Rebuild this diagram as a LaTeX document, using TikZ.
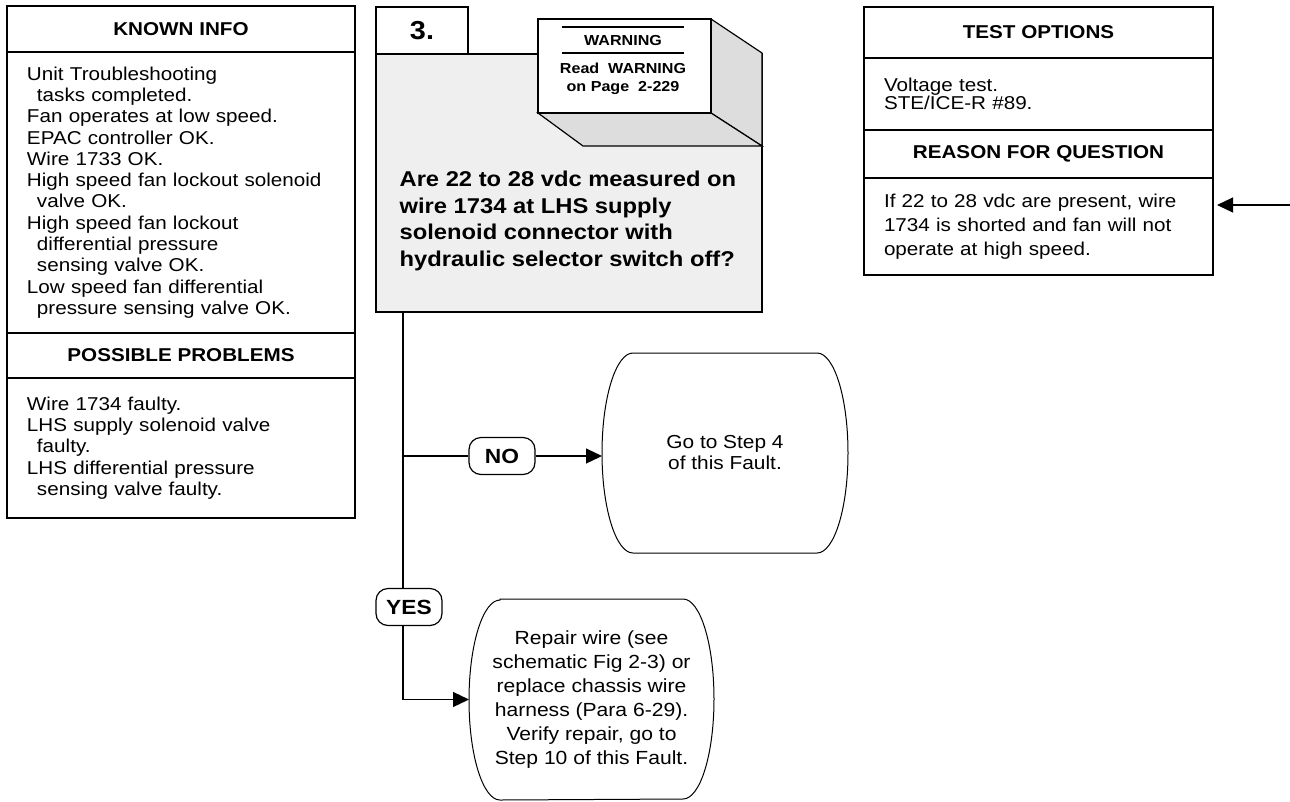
\documentclass[tikz,border=0pt]{standalone}
\usepackage{fontspec}
\setmainfont[FakeStretch=1.11]{Liberation Sans}
\usepackage{tikz}
\usetikzlibrary{arrows.meta,positioning}
\definecolor{askgray}{HTML}{EFEFEF}
\definecolor{slabgray}{HTML}{DDDDDD}

% rounded-ended terminal drawn round a named node
\newcommand{\termline}[1]{%
  \draw[line width=1pt] ([xshift=31pt]#1.north west) -- ([xshift=-31pt]#1.north east)
    arc[start angle=90,end angle=-90,x radius=31pt,y radius=100pt]
    -- ([xshift=31pt]#1.south west)
    arc[start angle=270,end angle=90,x radius=31pt,y radius=100pt] -- cycle;}

\begin{document}
\begin{tikzpicture}[x=1pt,y=-1pt,
line width=1.2pt,
head/.style={draw,outer sep=0pt,inner sep=0pt,minimum width=#1,
font=\fontsize{18.6}{21}\selectfont\bfseries},
textbox/.style={draw,outer sep=0pt,inner ysep=0pt,inner xsep=20pt,
text width=308pt,align=left,font=\fontsize{18.6}{21.3}\selectfont},
numbox/.style={draw,fill=white,outer sep=0pt,minimum width=92pt,minimum height=47pt,
font=\fontsize{26}{30}\selectfont\bfseries},
askbox/.style={draw,fill=askgray,outer sep=0pt},
warnbox/.style={draw,fill=white,outer sep=0pt},
warntext/.style={align=center,inner sep=0pt,font=\fontsize{14.5}{18}\selectfont\bfseries},
termtext/.style={align=center,outer sep=0pt,font=\fontsize{18.8}{21}\selectfont},
pill/.style={draw,fill=white,rounded corners=12pt,inner sep=0pt,
minimum width=66pt,minimum height=37pt,font=\fontsize{20.5}{24}\selectfont\bfseries},
arr/.style={-{Triangle[length=16pt,width=15pt]}}
]
\useasboundingbox (0,0) rectangle (1290,801);

\node[head=348pt,minimum height=46pt,anchor=north west] (kihead) at (7,6) {KNOWN INFO};
\node[textbox,minimum height=281pt,below=0pt of kihead] (kibody) {Unit Troubleshooting\\
\hspace*{10pt}tasks completed.\\
Fan operates at low speed.\\
EPAC controller OK.\\
Wire 1733 OK.\\
High speed fan lockout solenoid\\
\hspace*{10pt}valve OK.\\
High speed fan lockout\\
\hspace*{10pt}differential pressure\\
\hspace*{10pt}sensing valve OK.\\
Low speed fan differential\\
\hspace*{10pt}pressure sensing valve OK.};
\node[head=348pt,minimum height=45pt,below=0pt of kibody] (pphead) {POSSIBLE PROBLEMS};
\node[textbox,minimum height=140pt,below=0pt of pphead] (ppbody) {Wire 1734 faulty.\\
LHS supply solenoid valve\\
\hspace*{10pt}faulty.\\
LHS differential pressure\\
\hspace*{10pt}sensing valve faulty.};

\node[head=349pt,minimum height=51pt,anchor=north west] (tohead) at (864,7) {TEST OPTIONS};
\node[textbox,text width=309pt,minimum height=72pt,below=0pt of tohead,
font=\fontsize{18.6}{18.5}\selectfont] (tobody) {Voltage test.\\
STE/ICE-R \#89.};
\node[head=349pt,minimum height=48pt,below=0pt of tobody] (rqhead) {REASON FOR QUESTION};
\node[textbox,text width=309pt,minimum height=97pt,below=0pt of rqhead,
font=\fontsize{18.6}{24}\selectfont] (rqbody) {If 22 to 28 vdc are present, wire\\
1734 is shorted and fan will not\\
operate at high speed.};

\node[askbox,minimum width=386pt,minimum height=258pt,anchor=north west] (ask) at (376,54) {};
\node[numbox,anchor=north west] (num) at (376,7) {3.};
\filldraw[fill=slabgray] (711,19) -- (762,53) -- (762,146) -- (711,113) -- cycle;
\filldraw[fill=slabgray] (538,113) -- (711,113) -- (762,146) -- (583,146) -- cycle;
\node[warnbox,minimum width=173pt,minimum height=94pt,anchor=north west] (warn) at (538,19) {};
\draw[line width=1.7pt] (562,27) -- (684,27) (562,53) -- (684,53);
\node[warntext] (warnhead) at (623,41) {WARNING};
\node[warntext] (warnref) at (623,79) {Read~~WARNING\\on Page~~2-229};
\node[anchor=west,align=left,inner sep=0pt,
font=\fontsize{21.4}{26.5}\selectfont\bfseries] (asktxt) at (399,221)
{Are 22 to 28 vdc measured on\\wire 1734 at LHS supply\\solenoid connector with\\hydraulic selector switch off?};

\node[termtext,minimum width=246pt,minimum height=200pt,anchor=north west] (gofour) at (602,353)
{Go to Step 4\\ of this Fault.};
\node[termtext,minimum width=245pt,minimum height=201pt,anchor=north west,
font=\fontsize{19}{23.9}\selectfont] (repair) at (469,599)
{Repair wire (see\\schematic Fig 2-3) or\\replace chassis wire\\harness (Para 6-29).\\ Verify repair, go to\\Step 10 of this Fault.};
\termline{gofour}
\termline{repair}

\node[pill] (nopill) at (502,456) {NO};
\coordinate (stem) at ([xshift=27pt]ask.south west);
\draw[arr] (stem) |- (repair.west);
\draw (stem |- nopill) -- (nopill.west);
\draw[arr] (nopill.east) -- (nopill.east -| gofour.west);
\node[pill] (yespill) at (409,607) {YES};

\coordinate (feed) at (1290,205);
\draw[arr,shorten >=4pt] (feed) -- (feed -| rqbody.east);
\end{tikzpicture}
\end{document}
